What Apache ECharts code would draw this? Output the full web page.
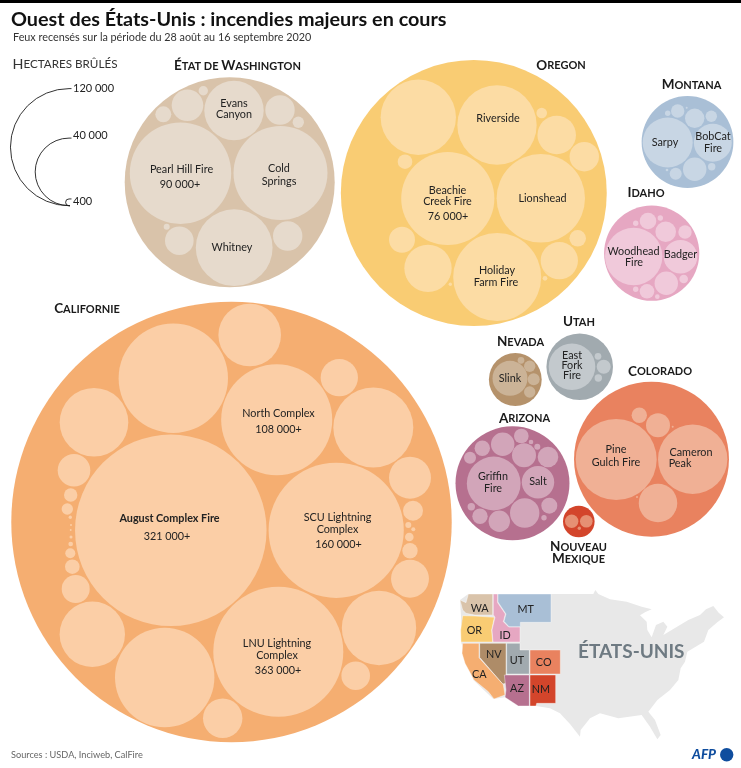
<!DOCTYPE html>
<html><head><meta charset="utf-8">
<style>html,body{margin:0;padding:0;background:#fff}#c{width:741px;height:768px}</style>
<script src="https://cdn.jsdelivr.net/npm/echarts@6/dist/echarts.min.js"></script>
</head><body><div id="c"></div>
<script>
// Layout: [x, y, hectares] in page units; radius comes from the sqrt(hectares) scale.
const stateTotals = [
  ['washington',229.7,182.3,386000],['oregon',473.8,193,619000],['montana',687.5,142,73700],
  ['idaho',651.7,253.2,79300],['california',231.5,522,1698000],['nevada',515.3,379.5,24400],
  ['utah',579.7,366.7,38800],['colorado',651.5,459.2,210000],['arizona',512.5,483.3,113700],['newMexico',578.8,521.5,8740]
];
const washington = [[180.5,173.2,90000],[280.5,173,77300],[234.2,247.7,51600],[234,110.5,30900],[187.5,105.3,8740],[280,110,7560],[163.3,114.3,2240],[203.3,90.7,770],[298.3,122.3,1130],[179.3,240.7,7160],[287.7,236,7560],[166.7,226.7,315]];
const oregon = [[418.3,117.3,49700],[497,125,55100],[447.8,198.5,76000],[540.8,198.3,68400],[497.2,277,67800],[556.7,135,13000],[584.3,156.7,7560],[541.7,113,980],[405,161.7,1870],[402,239.7,5900],[428,268.3,19600],[559.3,260.7,12200],[577.7,238.3,2410],[545,278.3,190],[450.3,284.3,100]];
const montana = [[667.7,142.5,21900],[712.8,142.7,12600],[677.7,111,1570],[694.7,118.3,3290],[711.3,116.3,1140],[667.7,113.3,255],[686.7,107.7,35],[694.7,169.3,4790],[675.7,173.7,1260],[711.7,166.7,480],[667,170,60]];
const idaho = [[633.7,256.5,28800],[680.5,256.7,9880],[648,221,2410],[665.7,231.7,3710],[685,232,1570],[660.3,218,255],[635.7,223.3,255],[666.3,283.3,4790],[647,291.3,1870],[683.7,279,650],[635.7,289.3,255],[657.3,296.7,190]];
const california = [[170.8,530.3,321000],[336.2,530.3,160000],[276.7,419.8,108000],[278.3,651.8,148000],[173.3,378.3,104700],[249.7,335,34300],[339.3,377.7,12200],[373.3,427.5,56000],[94,422.3,41200],[74,470.3,9300],[70.7,495,1570],[67.3,509,1130],[70.3,517.3,100],[71,525,35],[70.7,530,30],[71,537,80],[70.7,544,190],[70.3,553.3,875],[72.3,566.7,1870],[75.7,589,6860],[92.3,634.3,37400],[164.7,677.5,86500],[222.7,718.3,13600],[379,628,48400],[355.7,675.7,7160],[410,578.7,12600],[410,550.7,2070],[409.3,537,650],[410,477.7,15400],[413,510.7,3500],[408.3,525,315],[413.3,529.3,140]];
const nevada = [[510,378.3,10700],[529.7,366.3,1130],[521,360.3,390],[533.7,379.3,1260],[529.7,392,1130]];
const utah = [[572,366.7,19000],[603.7,366.7,1720],[598,356.3,390],[598.3,378,480]];
const colorado = [[616.2,459.5,57400],[692.7,459.3,42100],[658,425.3,5040],[639.3,415.3,2070],[658,503,13000],[672.7,426.7,35],[637,497,35]];
const arizona = [[493.7,483.5,25300],[538,482.3,9200],[502.7,444.3,4790],[482.3,448.3,2070],[521.3,436,1870],[524,455.3,5040],[548,457,3710],[470,457.7,1260],[531,442,190],[537.3,446.7,315],[524.7,513,7560],[499.3,521.3,4000],[480,516.3,2070],[471.3,506.7,480],[549.3,505.7,2240],[544,517.7,255]];
const newMexico = [[571.7,521.3,1570],[586.3,521.3,1390],[579.3,528.3,100]];

const fireLabels = [
 [234,104,'Evans'],[234,115,'Canyon'],[181.5,170,'Pearl Hill Fire'],[180,185,'90 000+'],[279,168.5,'Cold'],[279,181.5,'Springs'],[232,248,'Whitney'],
 [498,118.5,'Riverside'],[447.5,190.5,'Beachie'],[447.5,202,'Creek Fire'],[448,216.5,'76 000+'],[542.5,198.5,'Lionshead'],[497,270.5,'Holiday'],[496,283,'Farm Fire'],
 [665,142.5,'Sarpy'],[713,137,'BobCat'],[713,148.5,'Fire'],[633.5,251.5,'Woodhead'],[634,263,'Fire'],[680.5,255,'Badger'],
 [278.5,414,'North Complex'],[278.5,429.5,'108 000+'],[169.5,519,'August Complex Fire','b'],[167,537,'321 000+'],[337.5,518,'SCU Lightning'],[337.5,530,'Complex'],[338.5,545,'160 000+'],
 [277,643.5,'LNU Lightning'],[277,655.5,'Complex'],[278,670.5,'363 000+'],
 [510,378.5,'Slink'],[572,356,'East'],[572,366,'Fork'],[572,376,'Fire'],[616,450,'Pine'],[616,463,'Gulch Fire'],[691,453,'Cameron'],[680,464,'Peak'],[493,477,'Griffin'],[493,488.5,'Fire'],[538,482,'Salt']
];
const headings = [
 ['Hectares brûlés',65,64,0,1.06],['État de Washington',237.5,66,1,1],['Oregon',561,65.5,1,1],['Montana',691.5,85,1,1],['Idaho',646,193,1,1],['Californie',87,309,1,1],
 ['Utah',579,322,1,1],['Nevada',520.5,342,1,1],['Colorado',660,371.5,1,1],['Arizona',524.5,418.5,1,1],['Nouveau',578.5,547,1,1],['Mexique',578.5,559,1,1]
];
const legendHectares = [120000,40000,400];
const legendLabels = ['120 000','40 000','400'];
const legendLabelY = [88,135.7,201];

// Inset map, in its own map units
const usaOutline = [[128,42],[430,42],[436,30],[445,42],[480,58],[530,65],[575,80],[605,88],[585,97],[570,106],[590,125],[592,150],[605,172],[618,135],[640,125],[652,140],[640,165],[690,135],[715,120],[750,105],[768,88],[790,78],[806,98],[822,112],[800,128],[775,150],[762,185],[712,215],[705,245],[692,265],[685,300],[660,330],[622,360],[595,395],[615,420],[632,465],[622,478],[600,440],[575,405],[505,415],[450,400],[420,415],[392,450],[390,470],[360,432],[330,400],[300,385],[258,378],[205,378],[165,352],[130,357],[70,300],[33,186],[33,110],[30,60],[55,42]];
const mapStates = [
 ['WA',[[30,60],[48,68],[55,42],[128,42],[128,105],[75,105],[48,100],[38,90]],89,85],
 ['OR',[[38,107],[75,108],[133,112],[125,150],[128,186],[33,186],[32,150]],73,152],
 ['ID',[[130,42],[143,42],[143,68],[166,102],[160,125],[176,141],[210,141],[210,186],[129,186],[126,150],[135,112],[130,104]],165,167],
 ['MT',[[144,42],[303,42],[303,127],[211,127],[211,140],[177,140],[162,124],[168,102],[144,66]],227,88],
 ['NV',[[89,190],[168,190],[168,310],[158,312],[89,232]],131,223],
 ['CA',[[38,190],[87,190],[87,233],[160,314],[165,345],[132,357],[115,335],[72,300],[45,250],[36,220]],88,285],
 ['UT',[[170,190],[210,190],[210,210],[238,210],[238,282],[170,282]],201,242],
 ['CO',[[240,210],[331,210],[331,282],[240,282]],281,249],
 ['AZ',[[163,285],[238,285],[238,378],[205,378],[165,352],[168,330]],201,327],
 ['NM',[[240,285],[317,285],[317,370],[260,370],[258,378],[240,378]],273,328]
];
const colors = {
 washington:['#d9c3aa','#e6dacc'],oregon:['#f9cc73','#fcdca4'],montana:['#a9bfd6','#c8d6e4'],idaho:['#e6a7c2','#f0c9da'],
 california:['#f5ae71','#fbcea6'],nevada:['#b5926b','#cbb397'],utah:['#a1aaaf','#c3c9cd'],colorado:['#e9825f','#f0b095'],
 arizona:['#b6708f','#d2a5b9'],newMexico:['#d3452b','#e69073']
};
const inner = {washington,oregon,montana,idaho,california,nevada,utah,colorado,arizona,newMexico};
const mapColors = {WA:'#d9c3aa',OR:'#f9cc73',ID:'#e6a7c2',MT:'#a9bfd6',NV:'#ae8c68',CA:'#f5ae71',UT:'#a1aaaf',CO:'#e9825f',AZ:'#b6708f',NM:'#d3452b'};

const FONT = 'Lato, "Open Sans", sans-serif';
const TEXT = '#222222';
const K = 0.169;
const bubble = d => 2 * K * Math.sqrt(d[2]);

function smallCaps(s){
  let out='';
  for(const w of s.split(' ')){
    if(out) out+='{s| }';
    const c=w[0];
    const rest=w.slice(1);
    const first=(c===c.toUpperCase()&&c!==c.toLowerCase());
    if(first) out+='{b|'+c+'}'+'{s|'+rest.toUpperCase()+'}';
    else out+='{s|'+w.toUpperCase()+'}';
  }
  return out;
}
const series=[];
for(const t of stateTotals){
  series.push({type:'scatter',name:t[0],silent:true,z:1,symbol:'circle',symbolSize:bubble,data:[[t[1],t[2],t[3]]],itemStyle:{color:colors[t[0]][0],opacity:1}});
  series.push({type:'scatter',name:t[0]+' fires',silent:true,z:2,symbol:'circle',symbolSize:bubble,data:inner[t[0]],itemStyle:{color:colors[t[0]][1],opacity:1}});
}
series.push({type:'custom',name:'fire labels',silent:true,z:5,data:fireLabels.map(d=>[d[0],d[1]]),
  renderItem:(p,api)=>{const d=fireLabels[p.dataIndex];const c=api.coord([d[0],d[1]]);
    return {type:'text',x:c[0],y:c[1],style:{text:d[2],fontFamily:FONT,fontSize:10.8,fontWeight:d[3]?700:400,fill:TEXT,align:'center',verticalAlign:'middle'}};}});
series.push({type:'custom',name:'state headings',silent:true,z:5,data:headings.map(d=>[d[1],d[2]]),
  renderItem:(p,api)=>{const d=headings[p.dataIndex];const c=api.coord([d[1],d[2]]);
    const w=d[3]?700:400;const fill=d[3]?'#1a1a1a':'#333333';
    return {type:'text',x:c[0],y:c[1],style:{text:smallCaps(d[0]),align:'center',verticalAlign:'middle',fontFamily:FONT,
      rich:{b:{fontFamily:FONT,fontSize:13.5*d[4],fontWeight:w,fill:fill,color:fill},s:{fontFamily:FONT,fontSize:11*d[4],fontWeight:w,fill:fill,color:fill}}}};}});
const LEG_X=69, LEG_BASE=205.7;
series.push({type:'custom',name:'legend',silent:true,z:5,data:legendHectares.map((h,i)=>[LEG_X,LEG_BASE,h,i]),
  renderItem:(p,api)=>{const o=api.coord([LEG_X,LEG_BASE]);const h=legendHectares[p.dataIndex];const r=K*Math.sqrt(h);
    const top=o[1]-2*r;
    const ly=api.coord([LEG_X,legendLabelY[p.dataIndex]])[1];
    return {type:'group',children:[
      {type:'arc',shape:{cx:o[0],cy:o[1]-r,r:r,startAngle:Math.PI/2,endAngle:Math.PI*1.5,clockwise:true},style:{fill:null,stroke:'#1c1c1c',lineWidth:0.9}},
      {type:'line',shape:{x1:o[0],y1:top,x2:o[0]+2.5,y2:top},style:{stroke:'#1c1c1c',lineWidth:0.9}},
      {type:'line',shape:{x1:o[0],y1:o[1],x2:o[0]+1,y2:o[1]},style:{stroke:'#1c1c1c',lineWidth:0.9}},
      {type:'text',x:o[0]+4,y:ly,style:{text:legendLabels[p.dataIndex],fontFamily:FONT,fontSize:11,fill:TEXT,align:'left',verticalAlign:'middle'}}
    ]};}});
series.push({type:'custom',name:'usa',xAxisIndex:1,yAxisIndex:1,silent:true,z:1,data:[[0,0]],
  renderItem:(p,api)=>({type:'polygon',shape:{points:usaOutline.map(q=>api.coord(q))},style:{fill:'#e8e8e8',stroke:null}})});
series.push({type:'custom',name:'western states',xAxisIndex:1,yAxisIndex:1,silent:true,z:2,data:mapStates.map(s=>[s[2],s[3]]),
  renderItem:(p,api)=>{const s=mapStates[p.dataIndex];const c=api.coord([s[2],s[3]]);
    return {type:'group',children:[
      {type:'polygon',shape:{points:s[1].map(q=>api.coord(q))},style:{fill:mapColors[s[0]],stroke:'#ffffff',lineWidth:0.4}},
      {type:'text',x:c[0],y:c[1],style:{text:s[0],fontFamily:FONT,fontSize:10.8,fill:TEXT,align:'center',verticalAlign:'middle'}}
    ]};}});
const pageTexts=[
 ['Ouest des États-Unis : incendies majeurs en cours',11,20,{fontSize:19.8,fontWeight:700,fill:'#111111'},1],
 ['Feux recensés sur la période du 28 août au 16 septembre 2020',13,38,{fontSize:10.8,fill:'#333333'},1],
 ['Sources : USDA, Inciweb, CalFire',11,755,{fontSize:9.2,fill:'#666666'},1],
 ['ÉTATS-UNIS',578,652,{fontSize:19,fontWeight:700,fill:'#6e7a82'},1],
 ['AFP',692,755,{fontSize:13.5,fontWeight:900,fontStyle:'italic',fill:'#0f4d9e'},1]
];
series.push({type:'custom',name:'page texts',silent:true,z:6,data:pageTexts.map(d=>[d[1],d[2]]),
  renderItem:(p,api)=>{const d=pageTexts[p.dataIndex];const c=api.coord([d[1],d[2]]);
    return {type:'text',x:c[0],y:c[1],scaleX:d[4],style:Object.assign({text:d[0],fontFamily:FONT,align:'left',verticalAlign:'middle'},d[3])};}});

const chart=echarts.init(document.getElementById('c'),null,{renderer:'canvas',width:741,height:768});
chart.setOption({
  animation:false,backgroundColor:'#ffffff',tooltip:{show:false},
  grid:[{left:0,top:0,width:741,height:768},{left:450,top:580,width:291,height:188}],
  xAxis:[{type:'value',min:0,max:741,show:false,gridIndex:0},{type:'value',min:0,max:873,show:false,gridIndex:1}],
  yAxis:[{type:'value',min:0,max:768,inverse:true,show:false,gridIndex:0},{type:'value',min:0,max:564,inverse:true,show:false,gridIndex:1}],
  graphic:[
    {type:'rect',x:0,y:0,shape:{width:741,height:3},style:{fill:'#000000'},z:10,silent:true},
    {type:'circle',x:726.7,y:754.7,shape:{cx:0,cy:0,r:6.7},style:{fill:'#0f4d9e'},z:10,silent:true}
  ],
  series
});
</script></body></html>
